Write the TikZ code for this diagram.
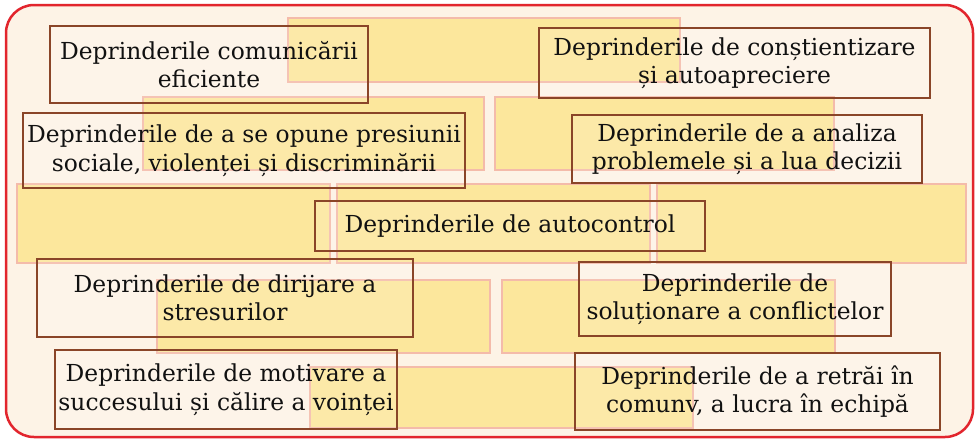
\documentclass[tikz,border=0pt]{standalone}
\usepackage{fontspec}
\setmainfont{DejaVu Serif}
\definecolor{bgcream}{HTML}{FDF3E6}
\definecolor{frame}{HTML}{E2252D}
\definecolor{brick}{HTML}{FCE79C}
\definecolor{brickedge}{HTML}{F4BBAA}
\definecolor{boxedge}{HTML}{8A4528}
\definecolor{ink}{HTML}{111111}
\tikzset{
  brickbox/.style={fill=brick, draw=brickedge, line width=1.6pt},
  skillbox/.style={draw=boxedge, line width=1.9pt, fill=white, fill opacity=0.12,
    text opacity=1, text=ink, align=center, inner sep=0pt,
    font=\fontsize{23.4}{28.5}\selectfont},
}
\begin{document}
\begin{tikzpicture}[x=1pt,y=-1pt]
\useasboundingbox (0,0) rectangle (977,440);
\fill[white] (0,0) rectangle (977,440);
% outer frame
\draw[frame, line width=2.5pt, fill=bgcream, rounded corners=28pt] (6,5) rectangle (973,437);
% background bricks
\draw[brickbox] (288,18) rectangle (680,82);
\draw[brickbox] (143,97) rectangle (484,170);
\draw[brickbox] (495,97) rectangle (834,170);
\draw[brickbox] (17,184) rectangle (330,263);
\draw[brickbox] (337,184) rectangle (650,263);
\draw[brickbox] (657,184) rectangle (966,263);
\draw[brickbox] (157,280) rectangle (490,353);
\draw[brickbox] (502,280) rectangle (835,353);
\draw[brickbox] (310,367) rectangle (693,428);
% skill boxes
\node[skillbox, minimum width=318pt, minimum height=77pt] (com) at (209,64.5) {Deprinderile comunicării\\eficiente};
\node[skillbox, minimum width=391pt, minimum height=70pt] (con) at (734.5,63) {Deprinderile de conștientizare\\și autoapreciere};
\node[skillbox, minimum width=442pt, minimum height=75pt] (opu) at (244,150.5) {Deprinderile de a se opune presiunii\\sociale, violenței și discriminării};
\node[skillbox, minimum width=350pt, minimum height=68pt] (ana) at (747,149) {Deprinderile de a analiza\\problemele și a lua decizii};
\node[skillbox, minimum width=390pt, minimum height=50pt] (aut) at (510,226) {Deprinderile de autocontrol};
\node[skillbox, minimum width=376pt, minimum height=78pt] (dir) at (225,298) {Deprinderile de dirijare a\\stresurilor};
\node[skillbox, minimum width=312pt, minimum height=74pt] (sol) at (735,299) {Deprinderile de\\soluționare a conflictelor};
\node[skillbox, minimum width=342pt, minimum height=79pt] (mot) at (226,389.5) {Deprinderile de motivare a\\succesului și călire a voinței};
\node[skillbox, minimum width=365pt, minimum height=77pt] (ret) at (757.5,391.5) {Deprinderile de a retrăi în\\comunv, a lucra în echipă};
\end{tikzpicture}
\end{document}
